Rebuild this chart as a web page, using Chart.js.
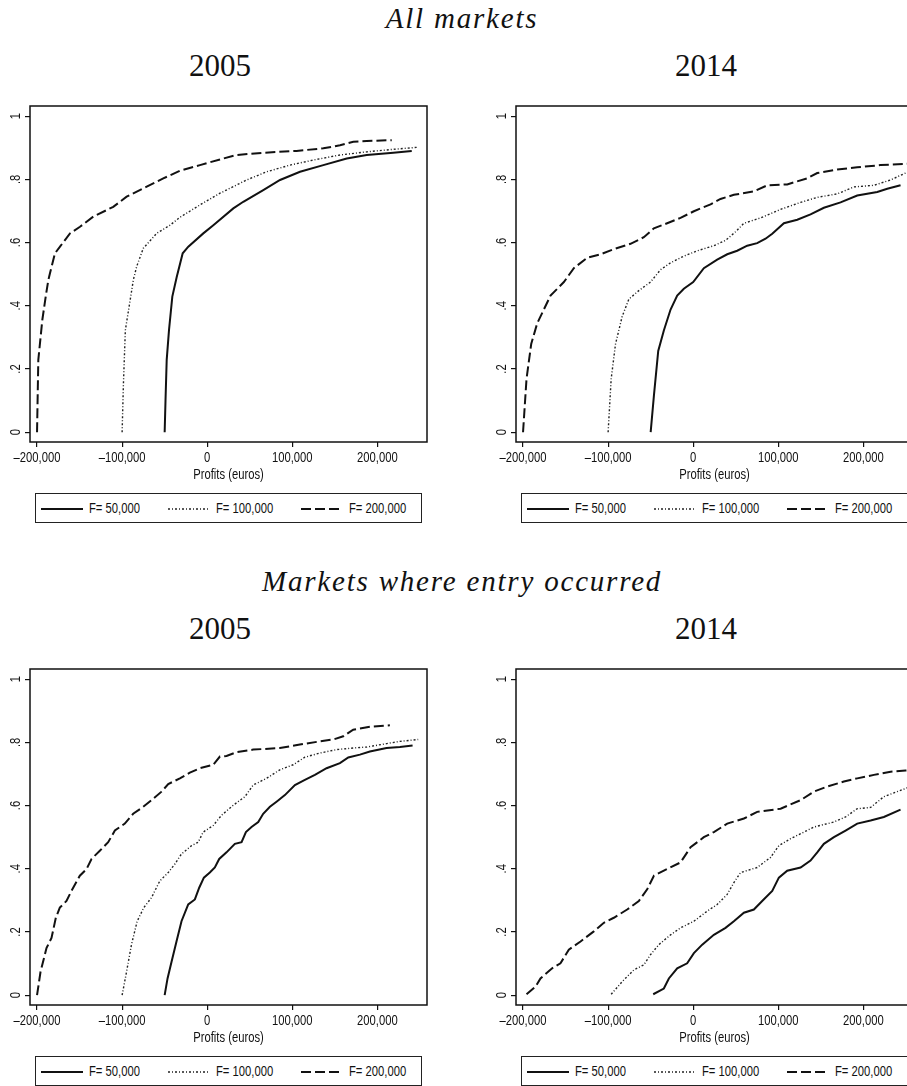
<!DOCTYPE html>
<html>
<head>
<meta charset="utf-8">
<script src="https://cdn.jsdelivr.net/npm/chart.js@4.4.1/dist/chart.umd.min.js"></script>
<style>
  html, body { margin: 0; padding: 0; background: #fff; }
  body { width: 907px; height: 1086px; overflow: hidden; position: relative; }
  .head { position: absolute; font-family: "Liberation Serif", "Times New Roman", serif; color: #111; text-align: center; white-space: nowrap; }
  .group { font-style: italic; font-size: 29px; line-height: 29px; letter-spacing: 1.8px; left: 262px; width: 400px; }
  .year { font-size: 31px; line-height: 31px; width: 120px; }
  canvas { position: absolute; }
  .legend { position: absolute; width: 387px; height: 30px; border: 1px solid #222; box-sizing: border-box;
            font-family: "Liberation Sans", Arial, sans-serif; font-size: 15px; color: #111; }
  .legend svg { position: absolute; top: 13px; }
  .legend span { position: absolute; top: 5px; line-height: 17px; white-space: nowrap; transform: scaleX(0.75); transform-origin: 0 50%; }
</style>
</head>
<body>
<div class="head group" style="top:4px">All markets</div>
<div class="head year" style="top:50px; left:160px">2005</div>
<div class="head year" style="top:50px; left:646px">2014</div>
<div class="head group" style="top:567px">Markets where entry occurred</div>
<div class="head year" style="top:613px; left:160px">2005</div>
<div class="head year" style="top:613px; left:646px">2014</div>

<canvas id="all2005" width="440" height="400" style="left:0px; top:90px"></canvas>
<canvas id="all2014" width="440" height="400" style="left:486px; top:90px"></canvas>
<canvas id="entry2005" width="440" height="400" style="left:0px; top:653px"></canvas>
<canvas id="entry2014" width="440" height="400" style="left:486px; top:653px"></canvas>

<script>
const profitTicks = [-200000, -100000, 0, 100000, 200000];
const shareTicks = [0, 0.2, 0.4, 0.6, 0.8, 1];
const shareTickLabels = ["0", ".2", ".4", ".6", ".8", "1"];
const seriesLabels = ["F= 50,000", "F= 100,000", "F= 200,000"];
const xTitle = "Profits (euros)";

// All markets, 2005
const all2005F50x = [-50000, -49000, -47600, -44900, -41000, -35900, -28800, -22200, -4600, 7200, 30700, 42400, 65900, 85600, 109100, 136500, 164000, 187500, 218800, 240400];
const all2005F50y = [0, 0.1, 0.229, 0.323, 0.429, 0.49, 0.566, 0.587, 0.629, 0.655, 0.708, 0.729, 0.766, 0.798, 0.824, 0.845, 0.866, 0.877, 0.884, 0.89];
const all2005F100x = [-100000, -98500, -96200, -89900, -86800, -82900, -75100, -59400, -43700, -32000, -8500, 15000, 46400, 70000, 97300, 124700, 156100, 187500, 218800, 246200];
const all2005F100y = [0, 0.15, 0.323, 0.429, 0.482, 0.524, 0.582, 0.629, 0.655, 0.68, 0.719, 0.756, 0.798, 0.824, 0.845, 0.861, 0.877, 0.887, 0.895, 0.901];
const all2005F200x = [-200000, -198500, -193800, -189800, -186700, -184800, -178900, -173000, -161300, -149500, -133900, -110400, -94700, -71100, -51600, -32000, -8500, 15000, 34700, 65900, 105000, 136500, 156100, 171700, 187500, 216900];
const all2005F200y = [0, 0.229, 0.355, 0.429, 0.482, 0.503, 0.566, 0.587, 0.629, 0.65, 0.682, 0.713, 0.745, 0.777, 0.803, 0.827, 0.845, 0.863, 0.877, 0.884, 0.89, 0.898, 0.908, 0.919, 0.921, 0.924];

// All markets, 2014
const all2014F50x = [-50000, -46200, -41100, -34500, -26600, -18800, -11000, 0, 12500, 28200, 40000, 51700, 63500, 75200, 85000, 92900, 106600, 122300, 137900, 153600, 173200, 192800, 216300, 228100, 243700];
const all2014F50y = [0, 0.115, 0.257, 0.322, 0.388, 0.432, 0.454, 0.475, 0.519, 0.546, 0.563, 0.574, 0.59, 0.598, 0.612, 0.628, 0.661, 0.672, 0.689, 0.71, 0.727, 0.749, 0.76, 0.77, 0.781];
const all2014F100x = [-100000, -96400, -91300, -83500, -75600, -63900, -50200, -38400, -26600, -11000, 4700, 24300, 38000, 49800, 59600, 79200, 102700, 126200, 145800, 169300, 188900, 212400, 232000, 249600, 260000];
const all2014F100y = [0, 0.169, 0.279, 0.366, 0.421, 0.448, 0.475, 0.514, 0.536, 0.557, 0.574, 0.59, 0.607, 0.634, 0.661, 0.678, 0.705, 0.727, 0.743, 0.754, 0.776, 0.781, 0.798, 0.82, 0.83];
const all2014F200x = [-200000, -195900, -190400, -183400, -167700, -152000, -140300, -124600, -108900, -93300, -73700, -58000, -46200, -30600, -14900, 800, 20400, 32100, 47800, 71300, 87000, 110500, 134000, 145800, 169300, 192800, 220200, 247600, 260000];
const all2014F200y = [0, 0.169, 0.279, 0.344, 0.432, 0.475, 0.519, 0.552, 0.563, 0.579, 0.596, 0.617, 0.645, 0.661, 0.678, 0.699, 0.721, 0.738, 0.751, 0.762, 0.781, 0.784, 0.803, 0.82, 0.831, 0.838, 0.845, 0.849, 0.85];

// Markets where entry occurred, 2005
const entry2005F50x = [-50000, -46600, -41900, -36100, -30200, -22300, -14500, -9400, -3900, 3100, 9000, 14100, 22700, 32500, 40400, 45500, 52100, 60000, 65800, 73700, 81500, 91300, 103100, 114800, 126600, 140300, 156000, 165800, 179500, 191200, 210800, 226500, 241400];
const entry2005F50y = [0, 0.053, 0.106, 0.17, 0.234, 0.287, 0.303, 0.34, 0.372, 0.388, 0.404, 0.431, 0.452, 0.479, 0.484, 0.516, 0.532, 0.548, 0.574, 0.596, 0.612, 0.633, 0.665, 0.681, 0.697, 0.718, 0.734, 0.752, 0.761, 0.771, 0.782, 0.785, 0.79];
const entry2005F100x = [-100000, -94800, -89000, -82300, -74500, -65400, -55600, -45800, -38000, -30200, -18400, -10600, -4700, 7100, 16800, 30600, 44300, 54100, 69700, 85400, 101100, 114800, 132400, 152000, 171600, 187300, 210800, 226500, 248000];
const entry2005F100y = [0, 0.074, 0.16, 0.234, 0.277, 0.309, 0.362, 0.388, 0.415, 0.447, 0.473, 0.484, 0.516, 0.537, 0.569, 0.601, 0.628, 0.665, 0.686, 0.713, 0.729, 0.753, 0.766, 0.777, 0.782, 0.785, 0.796, 0.803, 0.809];
const entry2005F200x = [-200000, -195900, -188900, -183000, -177900, -173200, -165400, -159500, -149700, -141800, -136000, -126200, -116400, -108500, -96800, -87000, -75200, -65400, -53700, -45800, -32100, -20400, -8600, 7100, 14900, 22700, 34500, 54100, 85400, 108900, 132400, 148100, 159900, 171600, 191200, 214700];
const entry2005F200y = [0, 0.074, 0.149, 0.181, 0.245, 0.277, 0.298, 0.33, 0.378, 0.399, 0.431, 0.457, 0.484, 0.521, 0.543, 0.574, 0.596, 0.617, 0.644, 0.668, 0.686, 0.704, 0.718, 0.729, 0.755, 0.757, 0.769, 0.777, 0.782, 0.793, 0.803, 0.809, 0.819, 0.84, 0.849, 0.854];

// Markets where entry occurred, 2014
const entry2014F50x = [-47000, -34500, -28600, -18800, -7100, 800, 10600, 24300, 38000, 47800, 59600, 71300, 81100, 92900, 100700, 110500, 126200, 137900, 145800, 153600, 165400, 179100, 192800, 208500, 224100, 243700];
const entry2014F50y = [0.003, 0.021, 0.053, 0.085, 0.101, 0.133, 0.16, 0.191, 0.213, 0.234, 0.261, 0.271, 0.298, 0.33, 0.372, 0.394, 0.404, 0.426, 0.452, 0.479, 0.5, 0.521, 0.543, 0.553, 0.564, 0.587];
const entry2014F100x = [-96400, -83500, -69700, -58000, -50200, -40400, -26600, -14900, 800, 16500, 28200, 40000, 47800, 55600, 75200, 90900, 100700, 114400, 130100, 141800, 165400, 179100, 192800, 208500, 224100, 249600, 260000];
const entry2014F100y = [0.003, 0.043, 0.08, 0.096, 0.128, 0.16, 0.191, 0.213, 0.234, 0.266, 0.287, 0.319, 0.356, 0.388, 0.404, 0.436, 0.473, 0.495, 0.516, 0.532, 0.548, 0.564, 0.59, 0.594, 0.628, 0.654, 0.665];
const entry2014F200x = [-195900, -185300, -179500, -165800, -156000, -146200, -132400, -116800, -105000, -93300, -77600, -63900, -54100, -46200, -34500, -14900, -3100, 12500, 24300, 40000, 59600, 75200, 102700, 126200, 141800, 157500, 177100, 192800, 212400, 232000, 249600, 260000];
const entry2014F200y = [0.003, 0.027, 0.053, 0.085, 0.101, 0.144, 0.17, 0.202, 0.229, 0.245, 0.271, 0.298, 0.335, 0.378, 0.394, 0.42, 0.468, 0.5, 0.516, 0.543, 0.559, 0.58, 0.59, 0.617, 0.644, 0.66, 0.676, 0.686, 0.697, 0.707, 0.711, 0.712];

const labelFont = '15px "Liberation Sans", Arial, sans-serif';
const squeeze = 0.75; // mimic the condensed Stata font
const lineStyles = [
  { color: "#111", width: 2, dash: [] },
  { color: "#222", width: 1.4, dash: [2, 2, 1, 2] },
  { color: "#111", width: 2, dash: [10, 4] },
];

// frame, rotated y labels and narrow x labels, Stata style
const stataFrame = {
  id: "stataFrame",
  afterDraw(chart) {
    const { ctx, chartArea: a } = chart;
    const { x, y } = chart.scales;
    ctx.save();
    ctx.strokeStyle = "#111";
    ctx.lineWidth = 1.5;
    ctx.strokeRect(a.left, a.top, a.right - a.left, a.bottom - a.top);
    ctx.font = labelFont;
    ctx.fillStyle = "#111";
    ctx.textAlign = "center";
    ctx.textBaseline = "middle";
    shareTicks.forEach((v, i) => {
      ctx.save();
      ctx.translate(a.left - 14, y.getPixelForValue(v));
      ctx.rotate(-Math.PI / 2);
      ctx.scale(squeeze, 1);
      ctx.fillText(shareTickLabels[i], 0, 0);
      ctx.restore();
    });
    profitTicks.forEach((v) => {
      ctx.save();
      ctx.translate(x.getPixelForValue(v), a.bottom + 16);
      ctx.scale(squeeze, 1);
      ctx.fillText(fmtProfit(v), 0, 0);
      ctx.restore();
    });
    ctx.save();
    ctx.translate((a.left + a.right) / 2, a.bottom + 33);
    ctx.scale(squeeze, 1);
    ctx.fillText(xTitle, 0, 0);
    ctx.restore();
    ctx.restore();
  },
};

function fmtProfit(v) {
  const s = Math.abs(v).toLocaleString("en-US");
  return v < 0 ? "\u2013" + s : s;
}

function drawPanel(id, xs, ys) {
  const datasets = xs.map((xv, k) => ({
    label: seriesLabels[k],
    data: xv.map((xx, i) => ({ x: xx, y: ys[k][i] })),
    borderColor: lineStyles[k].color,
    borderWidth: lineStyles[k].width,
    borderDash: lineStyles[k].dash,
    pointRadius: 0,
    tension: 0,
    fill: false,
  }));

  new Chart(document.getElementById(id).getContext("2d"), {
    type: "line",
    data: { datasets: datasets },
    options: {
      responsive: false,
      animation: false,
      events: [],
      layout: { padding: { top: 16, right: 13, left: 0, bottom: 0 } },
      plugins: { legend: { display: false }, tooltip: { enabled: false } },
      scales: {
        x: {
          type: "linear",
          min: -208270,
          max: 258340,
          afterBuildTicks: (s) => { s.ticks = profitTicks.map((v) => ({ value: v })); },
          afterFit: (s) => { s.height = 48; },
          ticks: { display: false },
          grid: { drawOnChartArea: false, tickLength: 5, color: "#111", lineWidth: 1.2 },
          border: { display: false },
        },
        y: {
          type: "linear",
          min: -0.031,
          max: 1.032,
          afterBuildTicks: (s) => { s.ticks = shareTicks.map((v) => ({ value: v })); },
          afterFit: (s) => { s.width = 30; },
          ticks: { display: false },
          grid: { drawOnChartArea: false, tickLength: 5, color: "#111", lineWidth: 1.2 },
          border: { display: false },
        },
      },
    },
    plugins: [stataFrame],
  });
}

// legend box under each panel
function addLegend(left, top) {
  const box = document.createElement("div");
  box.className = "legend";
  box.style.left = left + "px";
  box.style.top = top + "px";
  const sampleX = [5, 132, 265];
  seriesLabels.forEach((lab, k) => {
    const st = lineStyles[k];
    const svg = document.createElementNS("http://www.w3.org/2000/svg", "svg");
    svg.setAttribute("width", "42");
    svg.setAttribute("height", "4");
    svg.style.left = sampleX[k] + "px";
    const ln = document.createElementNS("http://www.w3.org/2000/svg", "line");
    ln.setAttribute("x1", "0"); ln.setAttribute("y1", "2");
    ln.setAttribute("x2", "42"); ln.setAttribute("y2", "2");
    ln.setAttribute("stroke", st.color);
    ln.setAttribute("stroke-width", st.width);
    if (st.dash.length) ln.setAttribute("stroke-dasharray", st.dash.join(" "));
    svg.appendChild(ln);
    box.appendChild(svg);
    const sp = document.createElement("span");
    sp.textContent = lab;
    sp.style.left = (sampleX[k] + 48) + "px";
    box.appendChild(sp);
  });
  document.body.appendChild(box);
}

drawPanel("all2005", [all2005F50x, all2005F100x, all2005F200x], [all2005F50y, all2005F100y, all2005F200y]);
drawPanel("all2014", [all2014F50x, all2014F100x, all2014F200x], [all2014F50y, all2014F100y, all2014F200y]);
drawPanel("entry2005", [entry2005F50x, entry2005F100x, entry2005F200x], [entry2005F50y, entry2005F100y, entry2005F200y]);
drawPanel("entry2014", [entry2014F50x, entry2014F100x, entry2014F200x], [entry2014F50y, entry2014F100y, entry2014F200y]);

addLegend(35, 493);
addLegend(521, 493);
addLegend(35, 1056);
addLegend(521, 1056);
</script>
</body>
</html>
